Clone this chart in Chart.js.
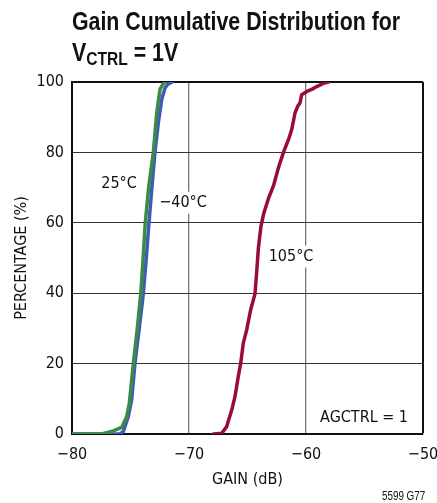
<!DOCTYPE html>
<html>
<head>
<meta charset="utf-8">
<script src="https://cdn.jsdelivr.net/npm/chart.js@4/dist/chart.umd.min.js"></script>
<style>
  html, body { margin: 0; padding: 0; background: #fff; }
  #wrap { position: relative; width: 437px; height: 503px; overflow: hidden; }
  canvas { position: absolute; left: 0; top: 0; }
  .t { position: absolute; left: 72px; font-family: "Liberation Sans", Arial, sans-serif; font-weight: bold; font-size: 26px; line-height: 26px; color: #111; white-space: nowrap; transform: scaleX(0.82); transform-origin: 0 0; }
  .t sub { font-size: 19px; vertical-align: -4px; line-height: 0; }
  #note { position: absolute; left: 382px; top: 489px; font-family: "Liberation Sans", Arial, sans-serif; font-size: 12px; color: #111; transform: scaleX(0.82); transform-origin: 0 0; white-space: nowrap; }
</style>
</head>
<body>
<div id="wrap">
  <canvas id="c" width="437" height="503"></canvas>
  <div class="t" style="top:8px">Gain Cumulative Distribution for</div>
  <div class="t" style="top:39px">V<sub>CTRL</sub> = 1V</div>
  <div id="note">5599 G77</div>
</div>
<script>
// ---- data ----
const seriesNames = ["25°C", "−40°C", "105°C"];

const gain25 = [-80, -77.46, -76.47, -75.75, -75.33, -75.1, -74.76, -74.42, -74.12, -73.92, -73.74, -73.45, -73.05, -72.76, -72.48, -72.25, -72.05];
const pct25  = [0, 0, 0.9, 1.9, 4.9, 8.7, 20, 30, 40, 50, 60, 70, 80, 91.2, 97.9, 99.3, 100];

const gainM40 = [-80, -75.9, -75.61, -75.19, -74.9, -74.62, -74.25, -73.9, -73.65, -73.42, -73.17, -72.91, -72.62, -72.33, -72.05, -71.8, -71.43];
const pctM40  = [0, 0, 0.7, 4.9, 9.7, 20, 30, 40, 50, 60, 70, 80, 88.4, 95, 98.3, 99.4, 100];

const gain105 = [-67.92, -67.2, -66.78, -66.35, -66.07, -65.79, -65.58, -65.36, -65.07, -64.73, -64.36, -64.21, -64.07, -63.85, -63.6, -63.2, -62.79, -62.36, -61.93, -61.5, -61.22, -60.94, -60.71, -60.51, -60.37, -59.89, -59.51, -59.08, -58.52, -58.09];
const pct105  = [0, 0.2, 2.1, 6.8, 10.6, 16.3, 20.1, 25.8, 29.6, 35.3, 39.8, 46.2, 52.8, 59, 62.8, 67, 70.4, 75.6, 80, 83.6, 86.5, 91.2, 93.1, 94.1, 96.4, 97.4, 97.9, 98.7, 99.6, 100];

const xTickValues = [-80, -70, -60, -50];
const xTickLabels = ["−80", "−70", "−60", "−50"];
const yTickValues = [0, 20, 40, 60, 80, 100];
const yTickLabels = ["0", "20", "40", "60", "80", "100"];

const xTitle = "GAIN (dB)";
const yTitle = "PERCENTAGE (%)";

// in-plot annotations (text, gain, percentage, white backing)
const noteTexts = ["25°C", "−40°C", "105°C", "AGCTRL = 1"];
const noteGain  = [-75.98, -70.51, -61.28, -55.04];
const notePct   = [71.1, 65.7, 50.4, 4.6];
const noteBox   = [false, true, true, false];

// ---- build chart ----
const FONT = '"DejaVu Sans Condensed", "Liberation Sans", sans-serif';
function pts(xs, ys) { return xs.map((x, i) => ({ x: x, y: ys[i] })); }

const notesPlugin = {
  id: 'notes',
  beforeDatasetsDraw(chart) {
    const ctx = chart.ctx, xs = chart.scales.x, ys = chart.scales.y;
    ctx.save();
    ctx.font = '16px ' + FONT;
    ctx.textAlign = 'center';
    ctx.textBaseline = 'middle';
    noteTexts.forEach((t, i) => {
      const px = xs.getPixelForValue(noteGain[i]);
      const py = ys.getPixelForValue(notePct[i]);
      if (noteBox[i]) {
        const w = ctx.measureText(t).width;
        ctx.fillStyle = '#fff';
        ctx.fillRect(px - w / 2 - 2, py - 11, w + 4, 22);
      }
      ctx.fillStyle = '#111';
      ctx.fillText(t, px, py);
    });
    ctx.restore();
  }
};

new Chart(document.getElementById('c'), {
  type: 'scatter',
  data: {
    datasets: [
      { label: seriesNames[0], data: pts(gain25, pct25), borderColor: '#3a8a48', backgroundColor: '#3a8a48' },
      { label: seriesNames[1], data: pts(gainM40, pctM40), borderColor: '#3d5cb6', backgroundColor: '#3d5cb6' },
      { label: seriesNames[2], data: pts(gain105, pct105), borderColor: '#990c36', backgroundColor: '#990c36' }
    ].map(d => Object.assign(d, { showLine: true, pointRadius: 0, borderWidth: 3.5, tension: 0, borderJoinStyle: 'round', borderCapStyle: 'round' }))
  },
  options: {
    responsive: false,
    animation: false,
    layout: { padding: { top: 82, right: 14, left: 0, bottom: 0 } },
    plugins: { legend: { display: false }, tooltip: { enabled: false }, title: { display: false } },
    scales: {
      x: {
        type: 'linear', min: -80, max: -50,
        afterBuildTicks: s => { s.ticks = xTickValues.map(v => ({ value: v })); },
        afterFit: s => { s.height = 69; s.paddingLeft = 0; s.paddingRight = 0; },
        ticks: { color: '#111', font: { family: FONT, size: 16 }, padding: 11, maxRotation: 0,
                 callback: v => xTickLabels[xTickValues.indexOf(v)] },
        grid: { drawTicks: false,
                color: c => (c.tick && c.tick.value === -50) ? '#111' : '#777',
                lineWidth: c => (c.tick && c.tick.value === -50) ? 2 : 1.3 },
        border: { display: true, color: '#111', width: 2 },
        title: { display: true, text: xTitle, color: '#111', font: { family: FONT, size: 16 }, padding: { top: 0, bottom: 14 } }
      },
      y: {
        type: 'linear', min: 0, max: 100,
        afterBuildTicks: s => { s.ticks = yTickValues.map(v => ({ value: v })); },
        afterFit: s => { s.width = 72; s.paddingTop = 0; s.paddingBottom = 0; },
        ticks: { color: '#111', font: { family: FONT, size: 16 }, padding: 8,
                 callback: v => yTickLabels[yTickValues.indexOf(v)] },
        grid: { drawTicks: false,
                color: c => (c.tick && c.tick.value === 100) ? '#111' : '#333',
                lineWidth: c => (c.tick && c.tick.value === 100) ? 2 : 1 },
        border: { display: true, color: '#111', width: 2 },
        title: { display: true, text: yTitle, color: '#111', font: { family: FONT, size: 16 }, padding: { top: 12, bottom: 0 } }
      }
    }
  },
  plugins: [notesPlugin]
});
</script>
</body>
</html>
